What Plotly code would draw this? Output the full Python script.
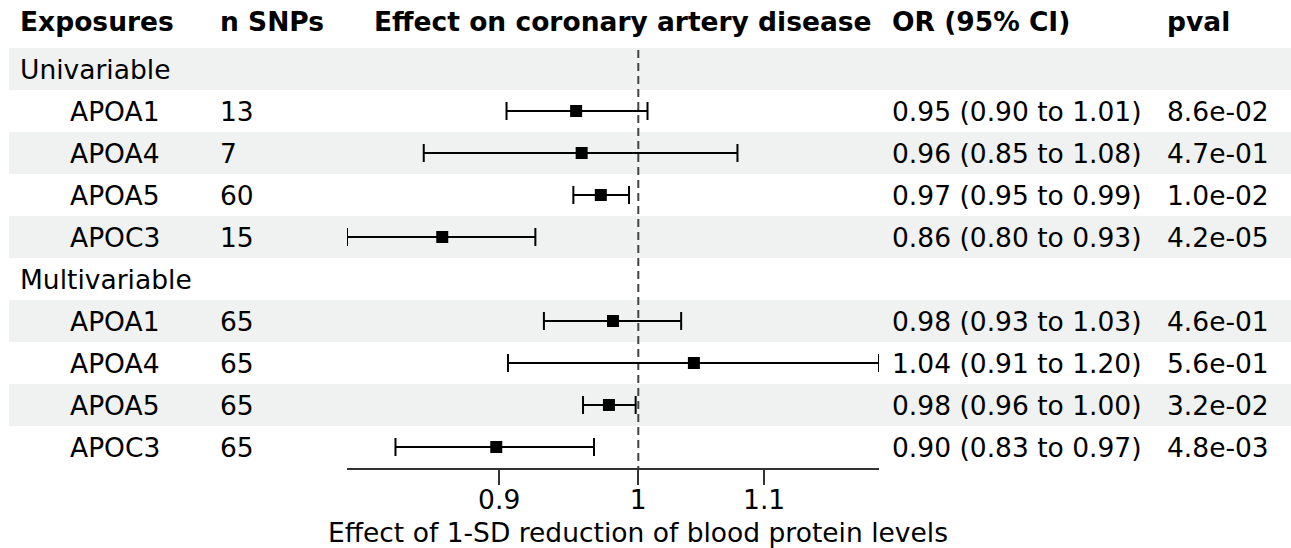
import math
import plotly.graph_objects as go

# ---------------- data ----------------
exposures = ["APOA1", "APOA4", "APOA5", "APOC3"]
groups = ["Univariable", "Multivariable"]

n_snps_uni = [13, 7, 60, 15]
n_snps_multi = [65, 65, 65, 65]

or_uni = [0.954, 0.958, 0.972, 0.862]
lo_uni = [0.905, 0.850, 0.952, 0.802]
hi_uni = [1.007, 1.078, 0.993, 0.925]

or_multi = [0.981, 1.043, 0.978, 0.898]
lo_multi = [0.931, 0.906, 0.959, 0.832]
hi_multi = [1.033, 1.200, 0.998, 0.967]

ci_text_uni = ["0.95 (0.90 to 1.01)", "0.96 (0.85 to 1.08)", "0.97 (0.95 to 0.99)", "0.86 (0.80 to 0.93)"]
ci_text_multi = ["0.98 (0.93 to 1.03)", "1.04 (0.91 to 1.20)", "0.98 (0.96 to 1.00)", "0.90 (0.83 to 0.97)"]
pval_uni = ["8.6e-02", "4.7e-01", "1.0e-02", "4.2e-05"]
pval_multi = ["4.6e-01", "5.6e-01", "3.2e-02", "4.8e-03"]

headers = ["Exposures", "n SNPs", "Effect on coronary artery disease", "OR (95% CI)", "pval"]
tick_vals = [0.9, 1.0, 1.1]
tick_text = ["0.9", "1", "1.1"]
x_title = "Effect of 1-SD reduction of blood protein levels"

# ---------------- layout constants ----------------
W, H = 1291, 548
FONT = "DejaVu Sans"
FS = 26.5
BAND = "#EFF2F0"

# row structure
rows = []  # (label, indent, nsnp, or, lo, hi, citext, pval)
for g, (ns, o, l, h, ct, pv) in zip(groups, [
        (n_snps_uni, or_uni, lo_uni, hi_uni, ci_text_uni, pval_uni),
        (n_snps_multi, or_multi, lo_multi, hi_multi, ci_text_multi, pval_multi)]):
    rows.append((g, False, None, None, None, None, None, None))
    for i, e in enumerate(exposures):
        rows.append((e, True, ns[i], o[i], l[i], h[i], ct[i], pv[i]))

n_rows = len(rows)

def px(x):
    return x / W

fig = go.Figure()

# shaded bands
shapes = []
for i in range(n_rows):
    if i % 2 == 0:
        shapes.append(dict(type="rect", xref="paper", yref="y",
                           x0=px(9), x1=1.0, y0=i - 0.5, y1=i + 0.5,
                           fillcolor=BAND, line=dict(width=0), layer="below"))

# reference dashed line (trace in data coordinates)
fig.add_trace(go.Scatter(x=[1, 1], y=[-0.45, n_rows - 0.5], mode="lines",
                         line=dict(color="#444444", width=2, dash="8px,5px"),
                         hoverinfo="skip", showlegend=False))

# estimates with CIs
xs, ys, ep, em = [], [], [], []
for i, r in enumerate(rows):
    if r[3] is None:
        continue
    xs.append(r[3]); ys.append(i)
    ep.append(r[5] - r[3]); em.append(r[3] - r[4])

fig.add_trace(go.Scatter(
    x=xs, y=ys, mode="markers",
    marker=dict(symbol="square", size=12, color="black"),
    error_x=dict(type="data", symmetric=False, array=ep, arrayminus=em,
                 color="black", thickness=2, width=9),
    hoverinfo="skip", showlegend=False))

# text annotations
ann = []
HEADER_Y = -1.12
DX = -3
hx = [21, 221, 375, 893, 1168]
for t, x in zip(headers, hx):
    ann.append(dict(text="<b>%s</b>" % t, x=px(x + DX), y=HEADER_Y, xref="paper", yref="y",
                    xanchor="left", yanchor="middle", showarrow=False,
                    font=dict(family=FONT, size=FS, color="black")))
for i, r in enumerate(rows):
    label, indent = r[0], r[1]
    ann.append(dict(text=label, x=px((71 if indent else 21) + DX), y=i, xref="paper", yref="y",
                    xanchor="left", yanchor="middle", showarrow=False,
                    font=dict(family=FONT, size=FS, color="black")))
    if r[2] is not None:
        for txt, x in [(str(r[2]), 221), (r[6], 893), (r[7], 1168)]:
            ann.append(dict(text=txt, x=px(x + DX), y=i, xref="paper", yref="y",
                            xanchor="left", yanchor="middle", showarrow=False,
                            font=dict(family=FONT, size=FS, color="black")))

# x axis title (centred under the reference line, as in the original)
ann.append(dict(text=x_title, x=px(637.5), y=(H - 532) / H, xref="paper", yref="paper",
                xanchor="center", yanchor="middle", showarrow=False,
                font=dict(family=FONT, size=FS, color="black")))

x_lo = min(lo_uni + lo_multi)
x_hi = max(hi_uni + hi_multi)

AX_BOTTOM = 468  # pixel of axis line
top_val = -69 / 42
bot_val = (AX_BOTTOM - 69) / 42

fig.update_layout(
    width=W, height=H,
    margin=dict(l=0, r=0, t=0, b=0),
    paper_bgcolor="white", plot_bgcolor="rgba(0,0,0,0)",
    shapes=shapes, annotations=ann,
    font=dict(family=FONT, size=FS, color="black"),
    xaxis=dict(type="log", domain=[px(347), px(879)],
               range=[math.log10(x_lo), math.log10(x_hi)],
               showgrid=False, zeroline=False, showline=True,
               linecolor="#333333", linewidth=1.5,
               ticks="outside", ticklen=15, tickwidth=1.5, tickcolor="#333333",
               tickvals=tick_vals, ticktext=tick_text,
               ticklabelstandoff=-8,
               tickfont=dict(family=FONT, size=FS, color="black"),
               fixedrange=True),
    yaxis=dict(domain=[(H - AX_BOTTOM) / H, 1.0],
               range=[bot_val, top_val], showgrid=False, zeroline=False,
               showticklabels=False, showline=False, fixedrange=True),
)

fig.write_html("out.html", config={"displayModeBar": False},
               post_script="document.body.style.margin='0';")
